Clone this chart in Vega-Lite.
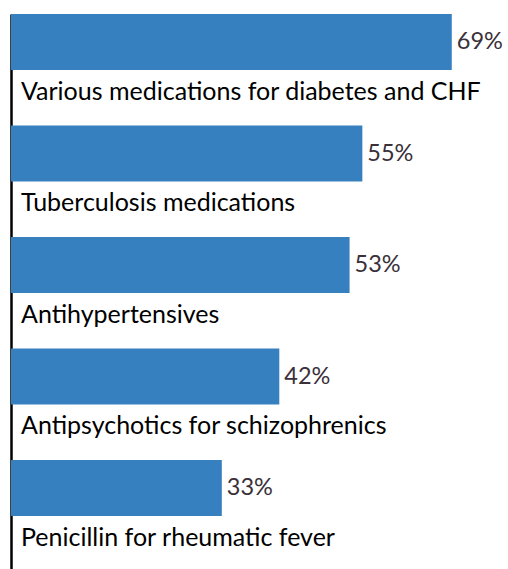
{
  "$schema": "https://vega.github.io/schema/vega-lite/v6.json",
  "width": 497,
  "height": 557.5,
  "padding": {"left": 11, "top": 14, "right": 0, "bottom": 0},
  "autosize": {"type": "none"},
  "background": "white",
  "config": {"view": {"stroke": null}},
  "data": {"values": [
    {"label": "Various medications for diabetes and CHF", "value": 69},
    {"label": "Tuberculosis medications", "value": 55},
    {"label": "Antihypertensives", "value": 53},
    {"label": "Antipsychotics for schizophrenics", "value": 42},
    {"label": "Penicillin for rheumatic fever", "value": 33}
  ]},
  "transform": [{"calculate": "datum.value + '%'", "as": "pct"}],
  "encoding": {
    "y": {"field": "label", "type": "nominal", "sort": null,
      "scale": {"paddingInner": 0, "paddingOuter": 0},
      "axis": {"title": null, "labels": false, "ticks": false, "domain": true, "domainColor": "#000000", "domainWidth": 2.5, "grid": false}}
  },
  "layer": [
    {"mark": {"type": "bar", "height": 56, "yOffset": -27.75, "color": "#3680c0"},
     "encoding": {"x": {"field": "value", "type": "quantitative", "scale": {"domain": [0, 77.8], "nice": false, "zero": true}, "axis": null}}},
    {"mark": {"type": "text", "align": "left", "baseline": "alphabetic", "dx": 5, "dy": -20.5, "font": "Lato", "fontSize": 23.5, "color": "#3a3039"},
     "encoding": {"x": {"field": "value", "type": "quantitative"}, "text": {"field": "pct"}}},
    {"mark": {"type": "text", "align": "left", "baseline": "alphabetic", "dx": 10, "dy": 29.8, "font": "Lato", "fontSize": 25, "color": "#000000"},
     "encoding": {"x": {"datum": 0, "type": "quantitative"}, "text": {"field": "label"}}}
  ]
}
